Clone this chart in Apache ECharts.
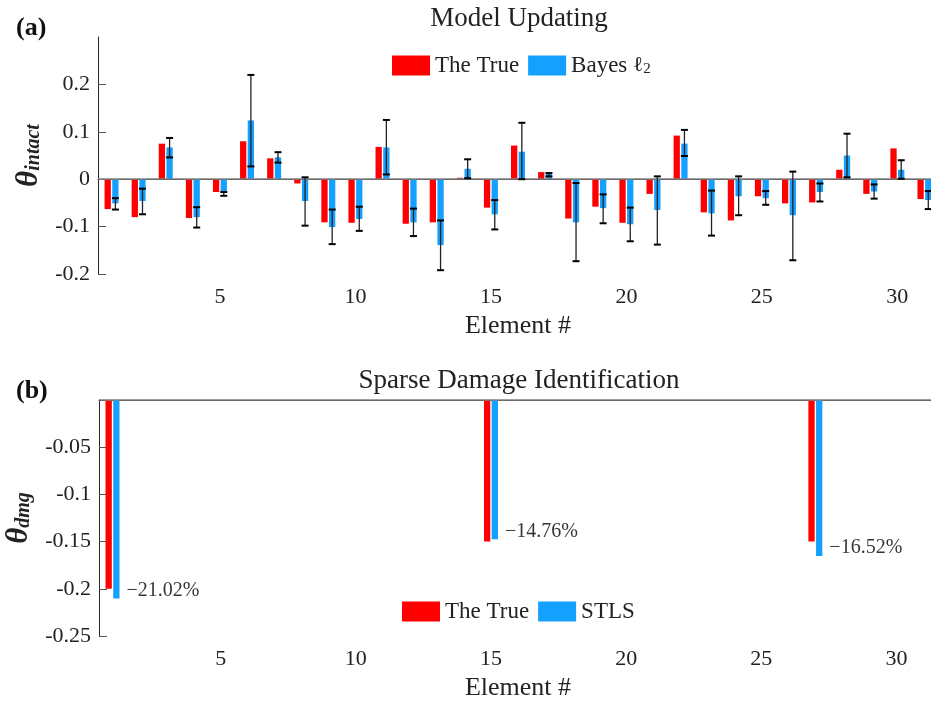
<!DOCTYPE html>
<html>
<head>
<meta charset="utf-8">
<script src="https://cdn.jsdelivr.net/npm/echarts@6/dist/echarts.min.js"></script>
<style>
html,body{margin:0;padding:0;background:#fff;}
#chart{width:931px;height:710px;}
</style>
</head>
<body>
<div id="chart"></div>
<script>
// element numbers 1..31
var elements = ['1','2','3','4','5','6','7','8','9','10','11','12','13','14','15','16',
    '17','18','19','20','21','22','23','24','25','26','27','28','29','30','31'];

// (a) model updating
var trueIntact = [-0.063,-0.080,0.075,-0.082,-0.027,0.080,0.044,-0.009,-0.091,-0.092,0.068,
    -0.094,-0.091,0.003,-0.060,0.071,0.015,-0.083,-0.058,-0.092,-0.031,0.092,-0.070,-0.087,
    -0.036,-0.051,-0.049,0.020,-0.031,0.065,-0.042];
var bayesIntact = [-0.051,-0.046,0.067,-0.080,-0.029,0.124,0.046,-0.046,-0.101,-0.084,0.067,
    -0.091,-0.139,0.022,-0.074,0.058,0.012,-0.091,-0.061,-0.095,-0.065,0.075,-0.072,-0.036,
    -0.040,-0.076,-0.027,0.050,-0.026,0.020,-0.044];
var bayesLo = [-0.064,-0.074,0.046,-0.102,-0.035,0.027,0.035,-0.098,-0.137,-0.109,0.010,
    -0.120,-0.192,0.002,-0.106,0.000,0.006,-0.173,-0.093,-0.131,-0.138,0.049,-0.119,-0.076,
    -0.054,-0.171,-0.047,0.004,-0.041,0.001,-0.063];
var bayesHi = [-0.040,-0.020,0.087,-0.059,-0.027,0.220,0.057,0.004,-0.064,-0.058,0.125,
    -0.062,-0.087,0.042,-0.044,0.119,0.013,-0.008,-0.032,-0.060,0.006,0.104,-0.024,0.006,
    -0.025,0.016,-0.009,0.096,-0.011,0.040,-0.025];

// (b) sparse damage identification
var trueDmg = [-0.20,0,0,0,0,0,0,0,0,0,0,0,0,0,-0.15,0,0,0,0,0,0,0,0,0,0,0,-0.15,0,0,0,0];
var stlsDmg = [-0.2102,0,0,0,0,0,0,0,0,0,0,0,0,0,-0.1476,0,0,0,0,0,0,0,0,0,0,0,-0.1652,0,0,0,0];

var yTicksA = [-0.2,-0.1,0,0.1,0.2];
var yTicksB = [-0.25,-0.2,-0.15,-0.1,-0.05];

var RED = '#ff0000', BLUE = '#14a0ff';
var FONT = '"Liberation Serif","DejaVu Serif",serif';
var barW = 6.3, blueShift = 3.85;

var errData = [];
for (var i = 0; i < elements.length; i++) errData.push([i, bayesLo[i], bayesHi[i]]);

var pctData = [];
for (var j = 0; j < stlsDmg.length; j++) if (stlsDmg[j] !== 0) pctData.push([j, stlsDmg[j]]);

function renderErr(params, api) {
    var lo = api.coord([api.value(0), api.value(1)]);
    var hi = api.coord([api.value(0), api.value(2)]);
    var x = lo[0] + blueShift, c = 3.5;
    return {type: 'group', children: [
        {type: 'line', shape: {x1: x, y1: lo[1], x2: x, y2: hi[1]}, style: {stroke: '#222', lineWidth: 1.3}},
        {type: 'line', shape: {x1: x - c, y1: lo[1], x2: x + c, y2: lo[1]}, style: {stroke: '#000', lineWidth: 2}},
        {type: 'line', shape: {x1: x - c, y1: hi[1], x2: x + c, y2: hi[1]}, style: {stroke: '#000', lineWidth: 2}}
    ]};
}

function xAxisOf(idx) {
    return {
        type: 'category', gridIndex: idx, data: elements,
        name: 'Element #', nameLocation: 'middle', nameGap: 39,
        nameTextStyle: {fontFamily: FONT, fontSize: 26, color: '#222'},
        axisLine: {lineStyle: {color: '#262626', width: 1}},
        axisTick: {inside: true, length: 8, alignWithLabel: true, lineStyle: {color: '#555'},
            interval: function (i, v) { return Number(v) % 5 === 0; }},
        axisLabel: {fontFamily: FONT, fontSize: 22, color: '#222', margin: 12,
            interval: function (i, v) { return Number(v) % 5 === 0; }},
        splitLine: {show: false}
    };
}

function yAxisOf(idx, min, max, interval, ticks, rich, nameGap) {
    return {
        type: 'value', gridIndex: idx, min: min, max: max, interval: interval,
        name: rich, nameLocation: 'middle', nameRotate: 90, nameGap: nameGap,
        nameTextStyle: {rich: {
            t: {fontFamily: FONT, fontSize: 31, fontWeight: 'bold', fontStyle: 'italic', color: '#222'},
            s: {fontFamily: FONT, fontSize: 20, fontWeight: 'bold', fontStyle: 'italic', color: '#222',
                verticalAlign: 'bottom'}
        }},
        axisLine: {show: true, lineStyle: {color: '#262626', width: 1}},
        axisTick: {show: true, inside: true, length: 8, customValues: ticks, lineStyle: {color: '#555'}},
        axisLabel: {fontFamily: FONT, fontSize: 22, color: '#222', margin: 8, customValues: ticks},
        splitLine: {show: false}
    };
}

var zeroLine = {
    silent: true, symbol: 'none', label: {show: false},
    lineStyle: {color: '#808080', type: 'solid', width: 1.5},
    data: [{yAxis: 0}]
};

var option = {
    backgroundColor: '#fff',
    animation: false,
    title: [
        {text: 'Model Updating', left: 514, top: 0, textAlign: 'center',
            textStyle: {fontFamily: FONT, fontSize: 27, fontWeight: 'normal', color: '#222'}},
        {text: 'Sparse Damage Identification', left: 514, top: 362, textAlign: 'center',
            textStyle: {fontFamily: FONT, fontSize: 27, fontWeight: 'normal', color: '#222'}},
        {text: '(a)', left: 11, top: 10,
            textStyle: {fontFamily: FONT, fontSize: 26, fontWeight: 'bold', color: '#111'}},
        {text: '(b)', left: 11, top: 373,
            textStyle: {fontFamily: FONT, fontSize: 26, fontWeight: 'bold', color: '#111'}}
    ],
    legend: [
        {data: ['The True', 'Bayes ℓ2'], left: 387, top: 49, icon: 'rect',
            itemWidth: 38, itemHeight: 20, itemGap: 9, selectedMode: false,
            formatter: function (n) { return n === 'Bayes ℓ2' ? 'Bayes {l|ℓ}{s|2}' : n; },
            textStyle: {fontFamily: FONT, fontSize: 23, color: '#222',
                rich: {l: {fontFamily: '"DejaVu Serif",serif', fontSize: 21, color: '#222'},
                    s: {fontFamily: FONT, fontSize: 15, color: '#222', verticalAlign: 'bottom'}}}},
        {data: ['The True', 'STLS'], left: 397, top: 595, icon: 'rect',
            itemWidth: 38, itemHeight: 20, itemGap: 9, selectedMode: false,
            textStyle: {fontFamily: FONT, fontSize: 23, color: '#222'}}
    ],
    grid: [
        {left: 98, right: -7, top: 37, bottom: 436, containLabel: false, outerBoundsMode: 'none'},
        {left: 99, right: -6, top: 400, bottom: 74, containLabel: false, outerBoundsMode: 'none'}
    ],
    xAxis: [xAxisOf(0), xAxisOf(1)],
    yAxis: [
        yAxisOf(0, -0.2, 0.3, 0.1, yTicksA, '{t|θ}{s|intact}', 50),
        yAxisOf(1, -0.25, 0, 0.05, yTicksB, '{t|θ}{s|dmg}', 55)
    ],
    series: [
        {name: 'The True', type: 'bar', xAxisIndex: 0, yAxisIndex: 0, data: trueIntact,
            barWidth: barW, barGap: '22%', itemStyle: {color: RED}, markLine: zeroLine},
        {name: 'Bayes ℓ2', type: 'bar', xAxisIndex: 0, yAxisIndex: 0, data: bayesIntact,
            barWidth: barW, barGap: '22%', itemStyle: {color: BLUE}},
        {name: 'err', type: 'custom', xAxisIndex: 0, yAxisIndex: 0, data: errData,
            renderItem: renderErr, encode: {x: 0, y: [1, 2]}, z: 5, silent: true},
        {name: 'The True', type: 'bar', xAxisIndex: 1, yAxisIndex: 1, data: trueDmg,
            barWidth: barW, barGap: '22%', itemStyle: {color: RED}, markLine: zeroLine},
        {name: 'STLS', type: 'bar', xAxisIndex: 1, yAxisIndex: 1, data: stlsDmg,
            barWidth: barW, barGap: '22%', itemStyle: {color: BLUE}},
        {name: 'pct', type: 'scatter', xAxisIndex: 1, yAxisIndex: 1, data: pctData,
            symbolSize: 0, silent: true,
            label: {show: true, position: 'right', distance: 14, offset: [0, -8],
                fontFamily: FONT, fontSize: 20, color: '#000',
                formatter: function (p) { return '\u2212' + Math.abs(p.value[1] * 100).toFixed(2) + '%'; }}}
    ]
};

var myChart = echarts.init(document.getElementById('chart'));
myChart.setOption(option);
</script>
</body>
</html>
